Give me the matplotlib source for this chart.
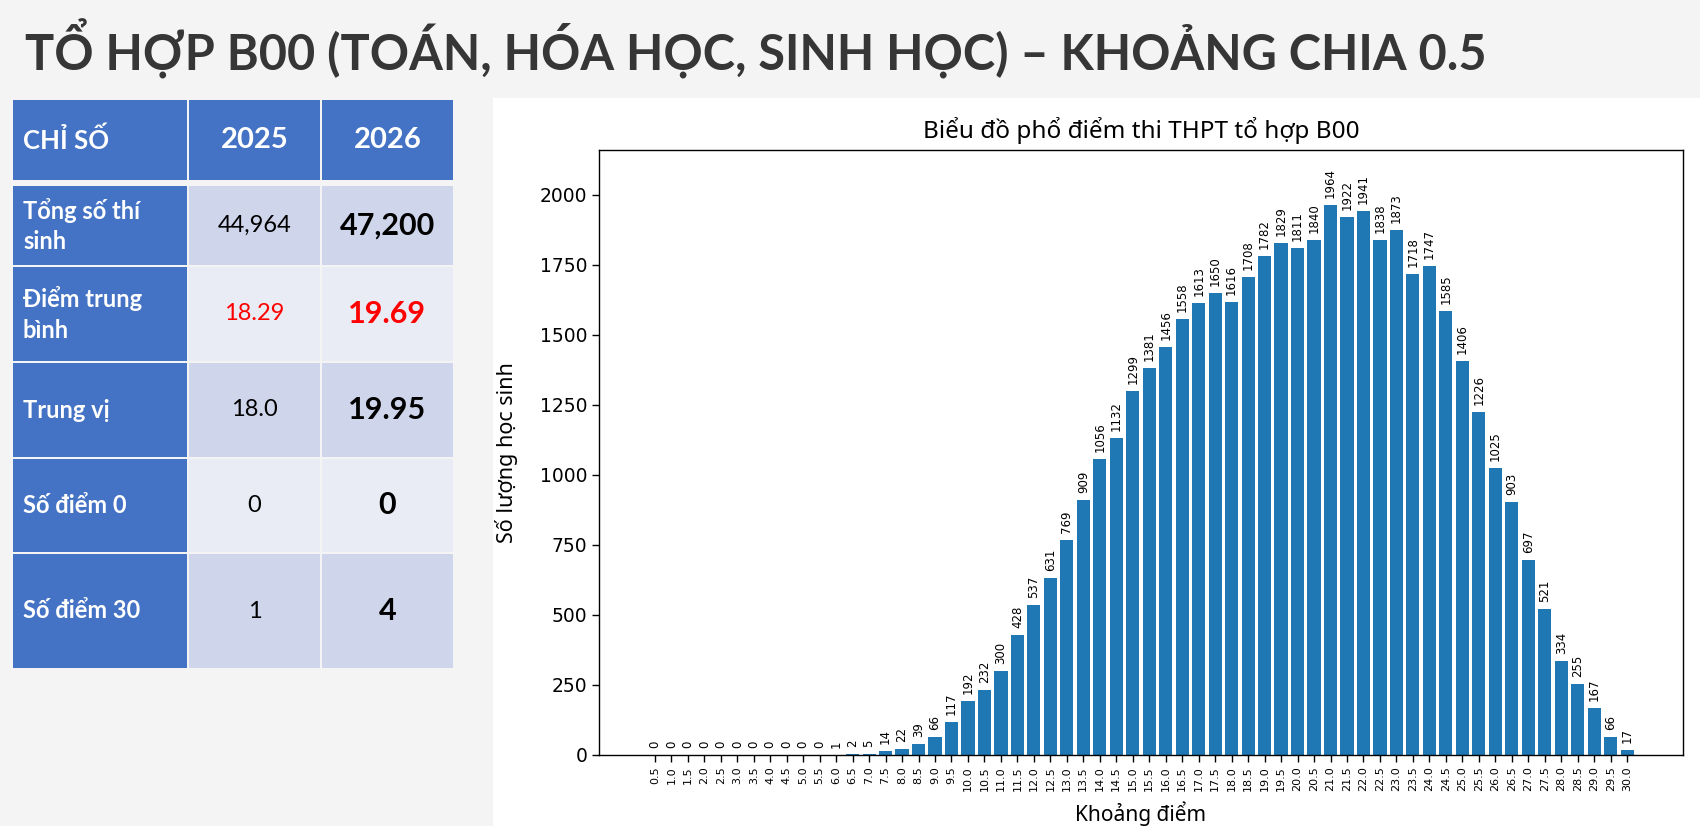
import matplotlib.pyplot as plt
from matplotlib.patches import Rectangle

# Data
scores = [0.5, 1.0, 1.5, 2.0, 2.5, 3.0, 3.5, 4.0, 4.5, 5.0,
          5.5, 6.0, 6.5, 7.0, 7.5, 8.0, 8.5, 9.0, 9.5, 10.0,
          10.5, 11.0, 11.5, 12.0, 12.5, 13.0, 13.5, 14.0, 14.5, 15.0,
          15.5, 16.0, 16.5, 17.0, 17.5, 18.0, 18.5, 19.0, 19.5, 20.0,
          20.5, 21.0, 21.5, 22.0, 22.5, 23.0, 23.5, 24.0, 24.5, 25.0,
          25.5, 26.0, 26.5, 27.0, 27.5, 28.0, 28.5, 29.0, 29.5, 30.0]
counts = [0, 0, 0, 0, 0, 0, 0, 0, 0, 0,
          0, 1, 2, 5, 14, 22, 39, 66, 117, 192,
          232, 300, 428, 537, 631, 769, 909, 1056, 1132, 1299,
          1381, 1456, 1558, 1613, 1650, 1616, 1708, 1782, 1829, 1811,
          1840, 1964, 1922, 1941, 1838, 1873, 1718, 1747, 1585, 1406,
          1226, 1025, 903, 697, 521, 334, 255, 167, 66, 17]

table_header = ['CHỈ SỐ', '2025', '2026']
table_rows = ['Tổng số thí\nsinh', 'Điểm trung\nbình', 'Trung vị', 'Số điểm 0', 'Số điểm 30']
values_2025 = ['44,964', '18.29', '18.0', '0', '1']
values_2026 = ['47,200', '19.69', '19.95', '0', '4']
highlight_row = 1  # điểm trung bình in red

page_title = 'TỔ HỢP B00 (TOÁN, HÓA HỌC, SINH HỌC) – KHOẢNG CHIA 0.5'
chart_title = 'Biểu đồ phổ điểm thi THPT tổ hợp B00'

table_font = ['Lato', 'Noto Sans', 'DejaVu Sans']
chart_font = ['Noto Sans', 'DejaVu Sans']

fig = plt.figure(figsize=(17, 8.26), dpi=100, facecolor='#f4f4f4')

# Layout axes in pixel coordinates (background, title, table)
lay = fig.add_axes([0, 0, 1, 1])
lay.set_xlim(0, 1700)
lay.set_ylim(826, 0)
lay.axis('off')
lay.add_patch(Rectangle((493, 98), 1207, 728, facecolor='white', edgecolor='none'))

lay.text(25, 49, page_title, fontsize=35, fontweight='bold', color='#363636',
         ha='left', va='center', family=table_font)

# Table
col_edges = [(13, 187), (189, 320), (322, 453)]
row_edges = [(100, 180), (186, 265), (267, 361), (363, 457), (459, 552), (554, 668)]
blue = '#4472c4'
dark_fill = '#cfd5ea'
light_fill = '#e9ebf5'

for j, (x0, x1) in enumerate(col_edges):
    y0, y1 = row_edges[0]
    lay.add_patch(Rectangle((x0, y0), x1 - x0, y1 - y0, facecolor=blue, edgecolor='none'))
    if j == 0:
        lay.text(x0 + 10, (y0 + y1) / 2, table_header[j], fontsize=18.5, fontweight='bold',
                 color='white', ha='left', va='center', family=table_font)
    else:
        lay.text((x0 + x1) / 2, (y0 + y1) / 2, table_header[j], fontsize=21, fontweight='bold',
                 color='white', ha='center', va='center', family=table_font)

for i, label in enumerate(table_rows):
    y0, y1 = row_edges[i + 1]
    yc = (y0 + y1) / 2
    fill = dark_fill if i % 2 == 0 else light_fill
    x0, x1 = col_edges[0]
    lay.add_patch(Rectangle((x0, y0), x1 - x0, y1 - y0, facecolor=blue, edgecolor='none'))
    lay.text(x0 + 10, yc, label, fontsize=17, fontweight='bold', color='white',
             ha='left', va='center', linespacing=1.4, family=table_font)
    color = 'red' if i == highlight_row else 'black'
    for j, (val, size, weight) in enumerate([(values_2025[i], 17, 'normal'),
                                             (values_2026[i], 22, 'bold')]):
        cx0, cx1 = col_edges[j + 1]
        lay.add_patch(Rectangle((cx0, y0), cx1 - cx0, y1 - y0, facecolor=fill, edgecolor='none'))
        lay.text((cx0 + cx1) / 2, yc, val, fontsize=size, fontweight=weight, color=color,
                 ha='center', va='center', family=table_font)

# Chart
ax = fig.add_axes([599 / 1700, 1 - 755 / 826, 1084 / 1700, 605 / 826])
ax.set_facecolor('white')
x = list(range(len(scores)))
ax.bar(x, counts, width=0.8, color='#1f77b4')
for i, v in enumerate(counts):
    ax.text(i, v + 25, str(v), rotation=90, ha='center', va='bottom', fontsize=8.5)

ax.set_xticks(x)
ax.set_xticklabels([f'{s:.1f}' for s in scores], rotation=90, fontsize=8)
ax.set_ylim(0, max(counts) * 1.1)
ax.tick_params(axis='y', labelsize=13.5, length=4.7, width=1)
ax.tick_params(axis='x', length=4.7, width=1)
for sp in ax.spines.values():
    sp.set_linewidth(1.0)

ax.set_title(chart_title, fontsize=17.5, pad=9, family=chart_font)
ax.set_ylabel('Số lượng học sinh', fontsize=15.5, family=chart_font)
ax.set_xlabel('Khoảng điểm', fontsize=15, family=chart_font)
ax.yaxis.set_label_coords(-0.075, 0.5)
ax.xaxis.set_label_coords(0.5, -0.077)

fig.savefig('out.png', dpi=100, facecolor=fig.get_facecolor())
